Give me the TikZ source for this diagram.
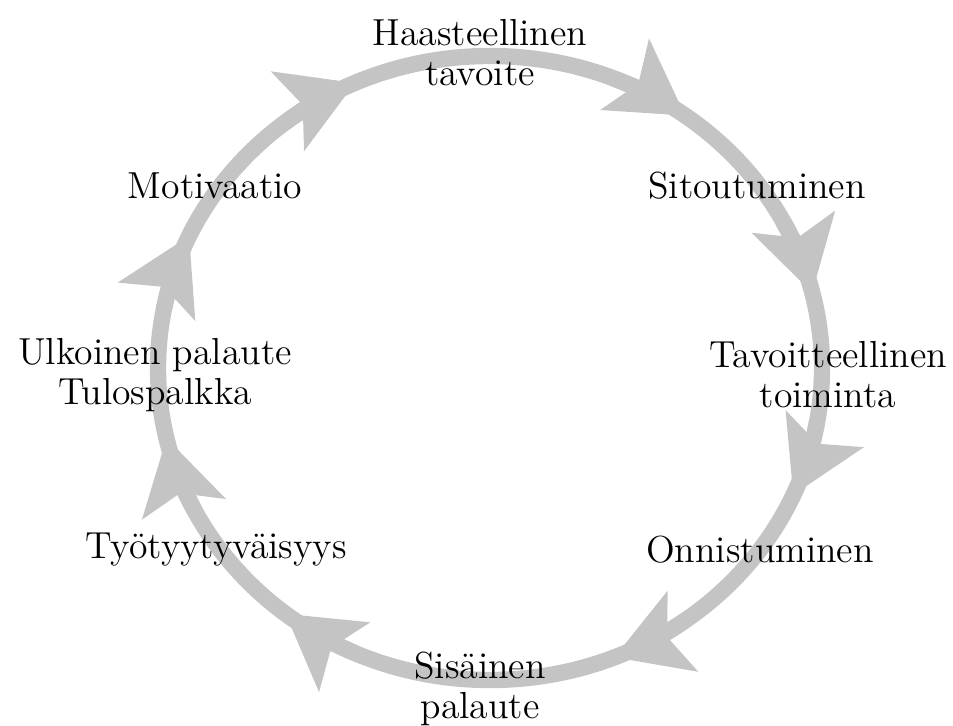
\documentclass[tikz,border=0pt]{standalone}
\usetikzlibrary{arrows.meta}
\definecolor{ringgray}{RGB}{196,196,196}
\begin{document}
\begin{tikzpicture}[x=0.3pt, y=0.3pt,
  ring/.style={draw=ringgray, line width=4.9pt},
  ringarrow/.style={ring, -{Stealth[length=22pt, width=26pt, inset=5pt, line width=0pt]}},
  label/.style={inner sep=0pt, align=center, font=\fontsize{11.3}{12}\selectfont}]
\useasboundingbox (0,0) rectangle (953,725);
\coordinate (c) at (490,357);
\draw[ring] (c) ellipse [x radius=332, y radius=312];
\foreach \a in {54,14,-24,-68,-128,-167,155,114}
  \draw[ringarrow] (c) ++(\a+14:332 and 312) arc[start angle=\a+14, end angle=\a, x radius=332, y radius=312];
\node[label] (goal) at (480,672) {Haasteellinen\\tavoite};
\node[label] (commit) at (757,539) {Sitoutuminen};
\node[label] (action) at (828,350) {Tavoitteellinen\\toiminta};
\node[label] (success) at (760,175) {Onnistuminen};
\node[label] (inner) at (480,36) {Sisäinen\\palaute};
\node[label] (satisf) at (216,175) {Työtyytyväisyys};
\node[label] (outer) at (155,350) {Ulkoinen palaute\\Tulospalkka};
\node[label] (motiv) at (215,539) {Motivaatio};
\end{tikzpicture}
\end{document}
